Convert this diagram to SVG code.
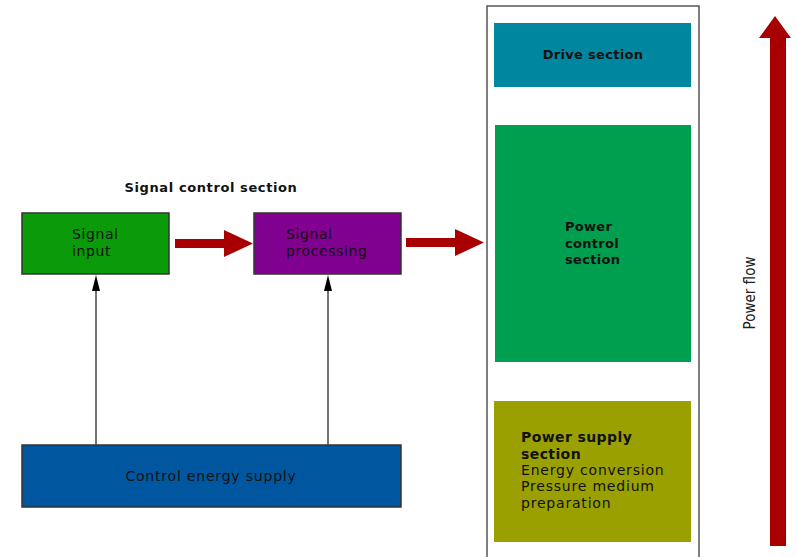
<svg xmlns="http://www.w3.org/2000/svg" width="798" height="557" viewBox="0 0 798 557">
<defs>
<style>
.t{font-family:"DejaVu Sans","Liberation Sans",sans-serif;font-size:14px;fill:#111;}
.b{font-family:"DejaVu Sans","Liberation Sans",sans-serif;font-size:13px;font-weight:bold;fill:#111;}
.box{stroke:#333;stroke-width:1.5;}
.big{fill:#a80000;}
.thin{stroke:#444;stroke-width:1.5;fill:none;}
.head{fill:#000;}
</style>
</defs>
<rect width="798" height="557" fill="#fff"/>
<text class="b" x="211" y="192" text-anchor="middle" letter-spacing="0.6">Signal control section</text>
<g id="signal-input">
<rect class="box" x="22" y="213" width="147" height="61" fill="#0a9a0a"/>
<text class="t" x="72" y="239" letter-spacing="0.6">Signal</text>
<text class="t" x="72" y="256" letter-spacing="0.6">input</text>
</g>
<g id="signal-processing">
<rect class="box" x="254" y="213" width="147" height="61" fill="#800090"/>
<text class="t" x="286" y="239" letter-spacing="0.6">Signal</text>
<text class="t" x="286" y="256" letter-spacing="0.6">processing</text>
</g>
<g id="control-energy-supply">
<rect class="box" x="22" y="445" width="379" height="62" fill="#0057a0"/>
<text class="t" x="211" y="481" text-anchor="middle" letter-spacing="0.8">Control energy supply</text>
</g>
<g id="power-frame">
<rect x="487" y="6" width="212" height="560" fill="none" stroke="#555" stroke-width="1.5"/>
</g>
<g id="drive-section">
<rect x="494" y="23" width="197" height="64" fill="#00879f"/>
<text class="b" x="593" y="59" text-anchor="middle" letter-spacing="0.3">Drive section</text>
</g>
<g id="power-control-section">
<rect x="495" y="125" width="196" height="237" fill="#009e4f"/>
<text class="b" x="565" y="231" letter-spacing="0.3">Power</text>
<text class="b" x="565" y="248" letter-spacing="0.3">control</text>
<text class="b" x="565" y="264" letter-spacing="0.3">section</text>
</g>
<g id="power-supply-section">
<rect x="494" y="401" width="197" height="141" fill="#9aa000"/>
<text class="b" x="521" y="442" style="font-size:14px" letter-spacing="0.4">Power supply</text>
<text class="b" x="521" y="459" style="font-size:14px" letter-spacing="0.4">section</text>
<text class="t" x="521" y="475" letter-spacing="0.8">Energy conversion</text>
<text class="t" x="521" y="491" letter-spacing="0.8">Pressure medium</text>
<text class="t" x="521" y="508" letter-spacing="0.8">preparation</text>
</g>
<g id="connectors">
<path class="big" d="M175,239 H224 V230 L253,243.5 L224,257 V248 H175 Z"/>
<path class="big" d="M406,238 H455 V229 L484,242.5 L455,256 V247 H406 Z"/>
<line class="thin" x1="96" y1="445" x2="96" y2="288"/>
<path class="head" d="M96,275 L100,291 L92,291 Z"/>
<line class="thin" x1="328" y1="445" x2="328" y2="288"/>
<path class="head" d="M328,275 L332,291 L324,291 Z"/>
<path class="big" d="M770,546 V38 H759 L775,16 L791,38 H786 V546 Z"/>
<text transform="translate(755,293) rotate(-90)" text-anchor="middle" style="font-family:'Liberation Sans Narrow','DejaVu Sans Condensed',sans-serif;font-size:15px;fill:#222">Power flow</text>
</g>
</svg>
